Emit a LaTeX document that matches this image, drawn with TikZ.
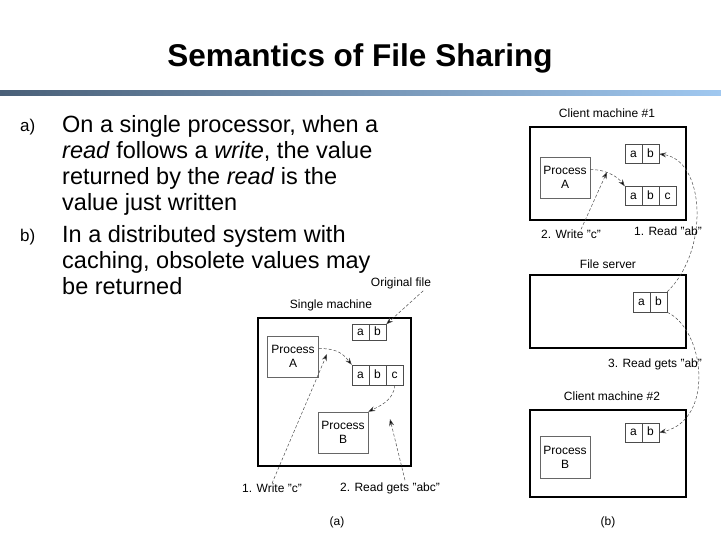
\documentclass[tikz,border=0pt]{standalone}
\usepackage{fontspec}
\setmainfont{Liberation Sans}
\usetikzlibrary{arrows.meta}
\begin{document}
\begin{tikzpicture}[x=1pt,y=-1pt,
  box/.style={draw,line width=1.3pt},
  proc/.style={draw=black!60,line width=0.5pt,fill=white,font=\fontsize{12}{14}\selectfont,align=center,inner sep=0pt},
  cell/.style={draw=black!70,line width=0.5pt,font=\fontsize{12}{14}\selectfont,inner sep=0pt,text height=6pt,text depth=0pt},
  lab/.style={font=\fontsize{12}{14}\selectfont,inner sep=0pt},
  arr/.style={densely dashed,black!70,line width=0.5pt,-{Stealth[length=7pt,width=5pt,fill=black]}},
  body/.style={font=\fontsize{23.5}{26}\selectfont,anchor=north west,align=left,inner sep=0pt}]
\useasboundingbox (0,0) rectangle (721,541);
\shade[left color={rgb,255:red,74;green,96;blue,120},right color={rgb,255:red,160;green,200;blue,240}] (0,90) rectangle (721,95);
\node[font=\fontsize{31.5}{36}\selectfont\bfseries] (title) at (360,58) {Semantics of File Sharing};
\node[font=\fontsize{17}{20}\selectfont,anchor=north west,inner sep=0pt] (la) at (20,119) {a)};
\node[font=\fontsize{17}{20}\selectfont,anchor=north west,inner sep=0pt] (lb) at (20,229) {b)};
\node[body] (ta) at (62,115) {On a single processor, when a\\\textit{read} follows a \textit{write}, the value\\returned by the \textit{read} is the\\value just written};
\node[body] (tb) at (62,225) {In a distributed system with\\caching, obsolete values may\\be returned};
% (a)
\draw[box] (258,318) rectangle (411,466);
\node[lab] (sm) at (331,305) {Single machine};
\node[lab] (of) at (401,283) {Original file};
\node[cell,minimum width=17pt,minimum height=16pt] (a1) at (360.5,332.5) {a};
\node[cell,minimum width=17pt,minimum height=16pt] (b1) at (377.5,332.5) {b};
\node[proc,minimum width=51pt,minimum height=41pt] (pa) at (293,356.5) {Process\\A};
\node[cell,minimum width=17pt,minimum height=20pt] (a2) at (360.5,375) {a};
\node[cell,minimum width=17pt,minimum height=20pt] (b2) at (377.5,375) {b};
\node[cell,minimum width=17pt,minimum height=20pt] (c2) at (394.5,375) {c};
\node[proc,minimum width=50pt,minimum height=41pt] (pb) at (343,432.5) {Process\\B};
\node[lab] (w1) at (272,488) {1. Write "c"};
\node[lab] (r1) at (390,488) {2. Read gets "abc"};
\node[lab] (ca) at (337,522) {(a)};
\draw[arr] (of.south east) ++(-8,2) coordinate (o1) -- (b1.north east);
\draw[arr] (pa.east) ++(0,-8) .. controls +(20,0) and +(-8,-10) .. (a2.north west);
\draw[arr] (w1.north) -- (327,354);
\draw[arr] (c2.south) .. controls +(0,15) and +(10,-5) .. (pb.north east);
\draw[arr] (r1.north) ++(15,-2) -- (390,419);
% (b)
\node[lab] (c1l) at (607,113) {Client machine \#1};
\draw[box] (530,127) rectangle (686,220);
\node[cell,minimum width=17pt,minimum height=19pt] (ca1) at (633.5,154) {a};
\node[cell,minimum width=17pt,minimum height=19pt] (cb1) at (650.5,154) {b};
\node[proc,minimum width=50pt,minimum height=41pt] (cpa) at (565,177.5) {Process\\A};
\node[cell,minimum width=17pt,minimum height=19pt] (ca2) at (633.5,196) {a};
\node[cell,minimum width=17pt,minimum height=19pt] (cb2) at (650.5,196) {b};
\node[cell,minimum width=17pt,minimum height=19pt] (cc2) at (667.5,196) {c};
\node[lab] (w2) at (571,234) {2. Write "c"};
\node[lab] (r2) at (668,231) {1. Read "ab"};
\node[lab] (fsl) at (608,264) {File server};
\draw[box] (530,275) rectangle (686,348);
\node[cell,minimum width=17pt,minimum height=20pt] (sa) at (641.5,302) {a};
\node[cell,minimum width=17pt,minimum height=20pt] (sb) at (658.5,302) {b};
\node[lab] (r3) at (655,364) {3. Read gets "ab"};
\node[lab] (c2l) at (612,396) {Client machine \#2};
\draw[box] (530,410) rectangle (686,497);
\node[cell,minimum width=17pt,minimum height=19pt] (da) at (633.5,432.5) {a};
\node[cell,minimum width=17pt,minimum height=19pt] (db) at (650.5,432.5) {b};
\node[proc,minimum width=50pt,minimum height=42pt] (cpb) at (565,457) {Process\\B};
\node[lab] (cb) at (608,522) {(b)};
\draw[arr] (sb.north east) .. controls (710,250) and (705,160) .. (cb1.east);
\draw[arr] (sb.south east) .. controls (705,330) and (715,420) .. (db.east);
\draw[arr] (cpa.east) ++(0,-8) .. controls +(18,0) and +(-6,-8) .. (ca2.north west);
\draw[arr] (w2.north) ++(10,0) -- (607,172);
\end{tikzpicture}
\end{document}
